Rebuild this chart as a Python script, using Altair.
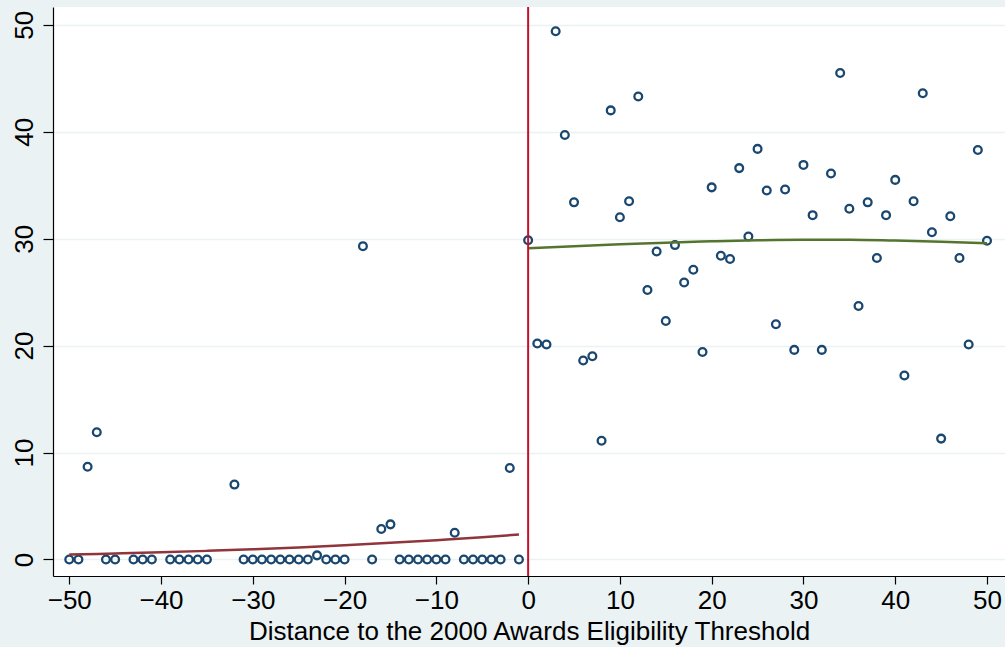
import altair as alt
import pandas as pd

# Scatter data (left of threshold)
left_x = [-50, -49, -48, -47, -46, -45, -43, -42, -41, -39, -38, -37, -36, -35,
          -32, -31, -30, -29, -28, -27, -26, -25, -24, -23, -22, -21, -20,
          -18, -17, -16, -15, -14, -13, -12, -11, -10, -9, -8, -7, -6, -5, -4, -3, -2, -1]
left_y = [0, 0, 8.67, 11.9, 0, 0, 0, 0, 0, 0, 0, 0, 0, 0,
          7.0, 0, 0, 0, 0, 0, 0, 0, 0, 0.38, 0, 0, 0,
          29.3, 0, 2.84, 3.28, 0, 0, 0, 0, 0, 0, 2.5, 0, 0, 0, 0, 0, 8.55, 0]

# Scatter data (right of threshold)
right_x = list(range(0, 51))
right_y = [29.85, 20.2, 20.1, 49.4, 39.7, 33.4, 18.6, 19.0, 11.1, 42.0,
           32.0, 33.5, 43.3, 25.2, 28.8, 22.3, 29.4, 25.9, 27.1, 19.4,
           34.8, 28.4, 28.1, 36.6, 30.2, 38.4, 34.5, 22.0, 34.6, 19.6,
           36.9, 32.2, 19.6, 36.1, 45.5, 32.8, 23.7, 33.4, 28.2, 32.2,
           35.5, 17.2, 33.5, 43.6, 30.6, 11.3, 32.1, 28.2, 20.1, 38.3,
           29.8]

# Fitted curves
fit_left_x = [-50, -45, -40, -35, -30, -25, -20, -15, -10, -5, -1]
fit_left_y = [0.45, 0.55, 0.66, 0.80, 0.95, 1.12, 1.32, 1.55, 1.80, 2.07, 2.33]
fit_right_x = [0, 5, 10, 15, 20, 25, 30, 35, 40, 45, 50]
fit_right_y = [29.1, 29.3, 29.48, 29.63, 29.75, 29.85, 29.9, 29.9, 29.82, 29.72, 29.58]

x_ticks = [-50, -40, -30, -20, -10, 0, 10, 20, 30, 40, 50]
y_ticks = [0, 10, 20, 30, 40, 50]

pts = pd.DataFrame({"x": left_x + right_x, "y": left_y + right_y})
fl = pd.DataFrame({"x": fit_left_x, "y": fit_left_y})
fr = pd.DataFrame({"x": fit_right_x, "y": fit_right_y})

FONT = "Liberation Sans"
xscale = alt.Scale(domain=[-51.77, 51.96], nice=False, zero=False)
yscale = alt.Scale(domain=[-1.55, 51.67], nice=False, zero=False)

xaxis = alt.Axis(values=x_ticks, title="Distance to the 2000 Awards Eligibility Threshold",
                 grid=False, domainColor="black", domainWidth=1.2, tickColor="black",
                 tickSize=8, tickWidth=1.2, labelFontSize=26, titleFontSize=26,
                 labelFont=FONT, titleFont=FONT, labelColor="black", titleColor="black",
                 titleFontWeight="normal", labelPadding=3, titlePadding=5, format="d",
                 labelFlush=False, labelOverlap=False)
yaxis = alt.Axis(values=y_ticks, title=None, grid=True, gridColor="#EAF2F3", gridWidth=1.5,
                 domainColor="black", domainWidth=1.2, tickColor="black", tickSize=10,
                 tickWidth=1.2, labelFontSize=26, labelFont=FONT, labelColor="black",
                 labelAngle=270, labelAlign="center", labelBaseline="bottom",
                 labelPadding=6, labelFlush=False, labelOverlap=False)

points = alt.Chart(pts).mark_point(shape="circle", filled=False, color="#1A476F",
                                   size=60, strokeWidth=2.3, opacity=1).encode(
    x=alt.X("x:Q", scale=xscale, axis=xaxis),
    y=alt.Y("y:Q", scale=yscale, axis=yaxis),
)

line_l = alt.Chart(fl).mark_line(color="#90353B", strokeWidth=2.5, interpolate="monotone").encode(
    x=alt.X("x:Q", scale=xscale), y=alt.Y("y:Q", scale=yscale))
line_r = alt.Chart(fr).mark_line(color="#55752F", strokeWidth=2.5, interpolate="monotone").encode(
    x=alt.X("x:Q", scale=xscale), y=alt.Y("y:Q", scale=yscale))

vline = alt.Chart(pd.DataFrame({"x": [0]})).mark_rule(color="#C8102E", strokeWidth=2).encode(
    x=alt.X("x:Q", scale=xscale))

chart = alt.layer(points, line_l, line_r, vline).properties(
    width=952, height=569,
    background="#EAF2F3",
    padding={"left": 53, "top": 7, "right": 0, "bottom": 71},
    autosize=alt.AutoSizeParams(type="none"),
).configure_view(fill="white", strokeWidth=0, stroke=None)

chart.save("out.html", embed_options={"renderer": "svg", "actions": False})
